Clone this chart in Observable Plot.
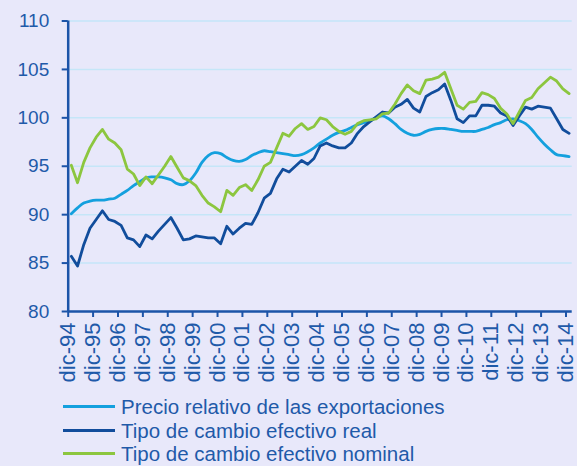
<!DOCTYPE html>
<html><head><meta charset="utf-8">
<script src="https://cdn.jsdelivr.net/npm/d3@7"></script>
<script src="https://cdn.jsdelivr.net/npm/@observablehq/plot@0.6"></script>
<style>
html,body{margin:0;padding:0;background:#e8e8fa;}
body{width:577px;height:466px;position:relative;overflow:hidden;font-family:"Liberation Sans",Arial,sans-serif;}
#chart{position:absolute;left:0;top:0;}
#legend{position:absolute;left:63px;top:395px;color:#1f5aa9;font-size:20.5px;line-height:23px;}
.row{display:flex;align-items:center;height:23.5px;white-space:nowrap;}
.sw{width:52px;height:3px;margin-right:6px;}
</style></head><body>
<div id="chart"></div>
<div id="legend"></div>
<script>
const tickLabels = ["dic-94","dic-95","dic-96","dic-97","dic-98","dic-99","dic-00","dic-01","dic-02","dic-03","dic-04","dic-05","dic-06","dic-07","dic-08","dic-09","dic-10","dic-11","dic-12","dic-13","dic-14"];
const yTicks = [80,85,90,95,100,105,110];
const seriesNames = ["Precio relativo de las exportaciones","Tipo de cambio efectivo real","Tipo de cambio efectivo nominal"];
const seriesColors = ["#14a0de","#114d9c","#8cc63f"];

// quarterly values, dic-94 .. dic-14
const precioRelativo = [90.1,90.7,91.2,91.4,91.5,91.5,91.6,91.7,92.1,92.5,93.0,93.4,93.8,93.9,93.9,93.8,93.6,93.2,93.1,93.5,94.3,95.4,96.1,96.4,96.3,95.9,95.6,95.5,95.7,96.1,96.4,96.6,96.5,96.4,96.3,96.2,96.1,96.2,96.5,96.9,97.4,97.8,98.2,98.5,98.7,99.0,99.3,99.5,99.7,100.0,100.2,99.9,99.4,98.8,98.4,98.2,98.3,98.6,98.8,98.9,98.9,98.8,98.7,98.6,98.6,98.6,98.8,99.0,99.3,99.5,99.8,99.9,99.7,99.4,98.8,98.0,97.3,96.7,96.2,96.1,96.0];
const tceReal = [85.7,84.7,86.9,88.6,89.5,90.4,89.5,89.3,88.9,87.6,87.4,86.7,87.9,87.5,88.3,89.0,89.7,88.6,87.4,87.5,87.8,87.7,87.6,87.6,87.0,88.8,88.0,88.6,89.1,89.0,90.2,91.7,92.2,93.7,94.7,94.4,95.0,95.6,95.2,95.8,97.1,97.4,97.1,96.9,96.9,97.4,98.4,99.1,99.6,100.1,100.6,100.5,101.1,101.4,101.9,101.0,100.6,102.2,102.6,102.9,103.5,101.8,99.9,99.5,100.2,100.2,101.3,101.3,101.2,100.5,100.2,99.2,100.2,101.1,100.9,101.2,101.1,101.0,99.9,98.8,98.4];
const tceNominal = [95.1,93.3,95.4,96.9,98.0,98.8,97.8,97.4,96.7,94.7,94.2,93.0,93.9,93.2,94.1,95.0,96.0,94.9,93.8,93.5,93.0,92.0,91.2,90.8,90.3,92.5,92.0,92.8,93.1,92.5,93.6,95.0,95.4,96.9,98.4,98.1,98.9,99.4,98.8,99.1,100.0,99.8,99.1,98.6,98.3,98.6,99.4,99.7,99.8,99.9,100.4,100.5,101.4,102.5,103.4,102.8,102.5,103.9,104.0,104.2,104.7,103.0,101.3,100.9,101.6,101.7,102.6,102.4,102.0,101.0,100.4,99.4,100.6,101.8,102.1,103.0,103.6,104.2,103.8,103.0,102.5];

const axisColor = "#1c54a8";
const textColor = "#1f5aa9";
const rows = a => a.map((v, i) => ({i, v}));
const xTicks = tickLabels.map((_, k) => k * 4 - 0.5);

const chart = Plot.plot({
  width: 577,
  height: 390,
  marginLeft: 67.7,
  marginRight: 5.3,
  marginTop: 20.5,
  marginBottom: 79,
  style: {background: "transparent", fontFamily: "'Liberation Sans', Arial, sans-serif", color: textColor},
  x: {domain: [-0.5, 80.5]},
  y: {domain: [80, 110]},
  marks: [
    Plot.gridY(yTicks, {stroke: "#c5e6f8", strokeOpacity: 1, strokeWidth: 1.5}),
    Plot.line(rows(precioRelativo), {x: "i", y: "v", stroke: seriesColors[0], strokeWidth: 2.8, curve: "catmull-rom"}),
    Plot.line(rows(tceReal), {x: "i", y: "v", stroke: seriesColors[1], strokeWidth: 2.8}),
    Plot.line(rows(tceNominal), {x: "i", y: "v", stroke: seriesColors[2], strokeWidth: 2.8}),
    Plot.ruleX([-0.5], {stroke: axisColor, strokeWidth: 2.5}),
    Plot.ruleY([80], {stroke: axisColor, strokeWidth: 2.5}),
    Plot.axisY(yTicks, {tickSize: 6, tickPadding: 13, fontSize: 19, stroke: axisColor, strokeWidth: 2, fill: textColor, label: null}),
    Plot.axisX(xTicks, {tickSize: 6, tickPadding: 5, tickRotate: -90, fontSize: 22, stroke: axisColor, strokeWidth: 2, fill: textColor, label: null,
      tickFormat: d => tickLabels[Math.round((d + 0.5) / 4)]})
  ]
});
document.getElementById("chart").appendChild(chart);

const legend = document.getElementById("legend");
seriesNames.forEach((name, k) => {
  const row = document.createElement("div");
  row.className = "row";
  const sw = document.createElement("span");
  sw.className = "sw";
  sw.style.background = seriesColors[k];
  const t = document.createElement("span");
  t.textContent = name;
  row.appendChild(sw);
  row.appendChild(t);
  legend.appendChild(row);
});
</script>
</body></html>
